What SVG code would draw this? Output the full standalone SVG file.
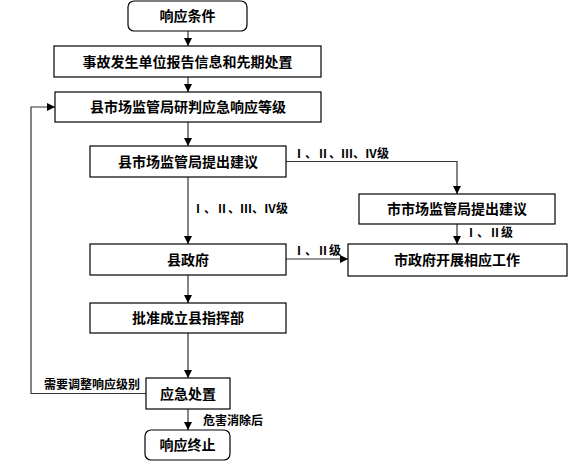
<svg xmlns="http://www.w3.org/2000/svg" width="568" height="461" viewBox="0 0 568 461">
<style>
.box{fill:#fff;stroke:#000;stroke-width:1.2}
.t{font-family:"Liberation Sans","Noto Sans CJK SC",sans-serif;font-size:14px;font-weight:bold;fill:#000;text-anchor:middle;dominant-baseline:central}
.l{font-family:"Liberation Sans","Noto Sans CJK SC",sans-serif;font-size:12px;font-weight:bold;fill:#000;dominant-baseline:central}
.c{fill:none;stroke:#333;stroke-width:1.2}
</style>
<defs>
<marker id="a" viewBox="0 0 10 10" refX="10" refY="5" markerWidth="8" markerHeight="8" markerUnits="userSpaceOnUse" orient="auto">
<path d="M0,0 L10,5 L0,10 z" fill="#000"/>
</marker>
</defs>
<rect width="568" height="461" fill="#fff"/>
<g id="connectors">
<path class="c" d="M188,31 V46" marker-end="url(#a)"/>
<path class="c" d="M188,77 V92" marker-end="url(#a)"/>
<path class="c" d="M188,122 V146" marker-end="url(#a)"/>
<path class="c" d="M286,161.5 H457 V194" marker-end="url(#a)"/>
<path class="c" d="M188,177 V244" marker-end="url(#a)"/>
<path class="c" d="M457,224 V244" marker-end="url(#a)"/>
<path class="c" d="M286,259 H348" marker-end="url(#a)"/>
<path class="c" d="M188,275 V303" marker-end="url(#a)"/>
<path class="c" d="M188,333 V378" marker-end="url(#a)"/>
<path class="c" d="M146,393.5 H31 V107 H55" marker-end="url(#a)"/>
<path class="c" d="M188,409 V430" marker-end="url(#a)"/>
<text class="l" x="293" y="154">Ⅰ、Ⅱ、Ⅲ、Ⅳ级</text>
<text class="l" x="192" y="209">Ⅰ、Ⅱ、Ⅲ、Ⅳ级</text>
<text class="l" x="293" y="251">Ⅰ、Ⅱ级</text>
<text class="l" x="465" y="233">Ⅰ、Ⅱ级</text>
<text class="l" x="44" y="385">需要调整响应级别</text>
<text class="l" x="203" y="421">危害消除后</text>
</g>
<g id="n1"><rect class="box" x="128" y="1" width="119" height="30" rx="6"/><text class="t" x="187.5" y="16">响应条件</text></g>
<g id="n2"><rect class="box" x="54" y="46" width="267" height="31"/><text class="t" x="187.5" y="61.5">事故发生单位报告信息和先期处置</text></g>
<g id="n3"><rect class="box" x="55" y="92" width="266" height="30"/><text class="t" x="188" y="107">县市场监管局研判应急响应等级</text></g>
<g id="n4"><rect class="box" x="90" y="146" width="196" height="31"/><text class="t" x="188" y="161.5">县市场监管局提出建议</text></g>
<g id="n5"><rect class="box" x="359" y="194" width="196" height="30"/><text class="t" x="457" y="209">市市场监管局提出建议</text></g>
<g id="n6"><rect class="box" x="90" y="244" width="196" height="31"/><text class="t" x="188" y="259.5">县政府</text></g>
<g id="n7"><rect class="box" x="348" y="244" width="219" height="32"/><text class="t" x="457" y="260">市政府开展相应工作</text></g>
<g id="n8"><rect class="box" x="90" y="303" width="196" height="30"/><text class="t" x="188" y="318">批准成立县指挥部</text></g>
<g id="n9"><rect class="box" x="146" y="378" width="84" height="31"/><text class="t" x="188" y="393.5">应急处置</text></g>
<g id="n10"><rect class="box" x="145" y="430" width="85" height="30" rx="6"/><text class="t" x="187.5" y="445">响应终止</text></g>
</svg>
